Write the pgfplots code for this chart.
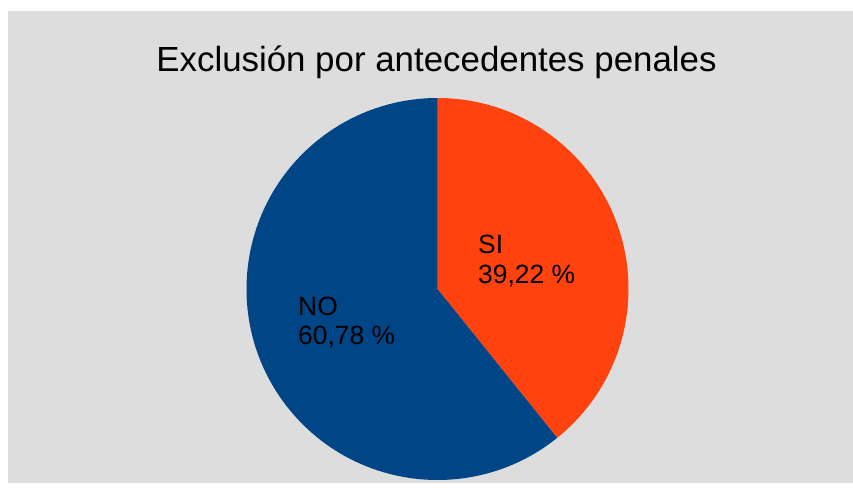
\documentclass[border=0pt]{standalone}
\usepackage{pgfplots}
\usepackage{pgfplotstable}
\pgfplotsset{compat=1.18}
\usepackage{fontspec}
\setmainfont{Liberation Sans}
\definecolor{bgGray}{HTML}{DDDDDD}
\definecolor{siCol}{HTML}{FF420E}
\definecolor{noCol}{HTML}{004586}
\pgfplotstableread{
label value
SI 39.22
NO 60.78
}\piedata
\begin{document}
\begin{tikzpicture}
\pgfplotstablegetelem{0}{value}\of\piedata \let\vSI\pgfplotsretval
\pgfplotstablegetelem{1}{value}\of\piedata \let\vNO\pgfplotsretval
\fill[white] (0,0) rectangle (853bp,483bp);
\fill[bgGray] (8bp,0) rectangle (853bp,472bp);
\begin{axis}[
  at={(0,0)}, anchor=origin,
  x=1bp, y=1bp, xmin=0, xmax=853, ymin=0, ymax=483,
  hide axis, clip=false,
]
\addplot[draw=none, forget plot] coordinates {(0,0) (853,483)};
\fill[siCol] (axis cs:437.5,194) -- ++(90:191bp) arc[start angle=90, end angle={90-3.6*\vSI}, radius=191bp] -- cycle;
\fill[noCol] (axis cs:437.5,194) -- ++({90-3.6*\vSI}:191bp) arc[start angle={90-3.6*\vSI}, end angle={90-3.6*\vSI-3.6*\vNO}, radius=191bp] -- cycle;
\node[anchor=base, inner sep=0, text=black] at (axis cs:436.5,412) {\fontsize{35}{42}\selectfont Exclusión por antecedentes penales};
\node[anchor=base west, inner sep=0, text=black] at (axis cs:478,230) {\fontsize{26.5}{32}\selectfont SI};
\node[anchor=base west, inner sep=0, text=black] at (axis cs:478,200) {\fontsize{26.5}{32}\selectfont 39,22 \%};
\node[anchor=base west, inner sep=0, text=black] at (axis cs:298,168) {\fontsize{26.5}{32}\selectfont NO};
\node[anchor=base west, inner sep=0, text=black] at (axis cs:298,139) {\fontsize{26.5}{32}\selectfont 60,78 \%};
\end{axis}
\end{tikzpicture}
\end{document}
